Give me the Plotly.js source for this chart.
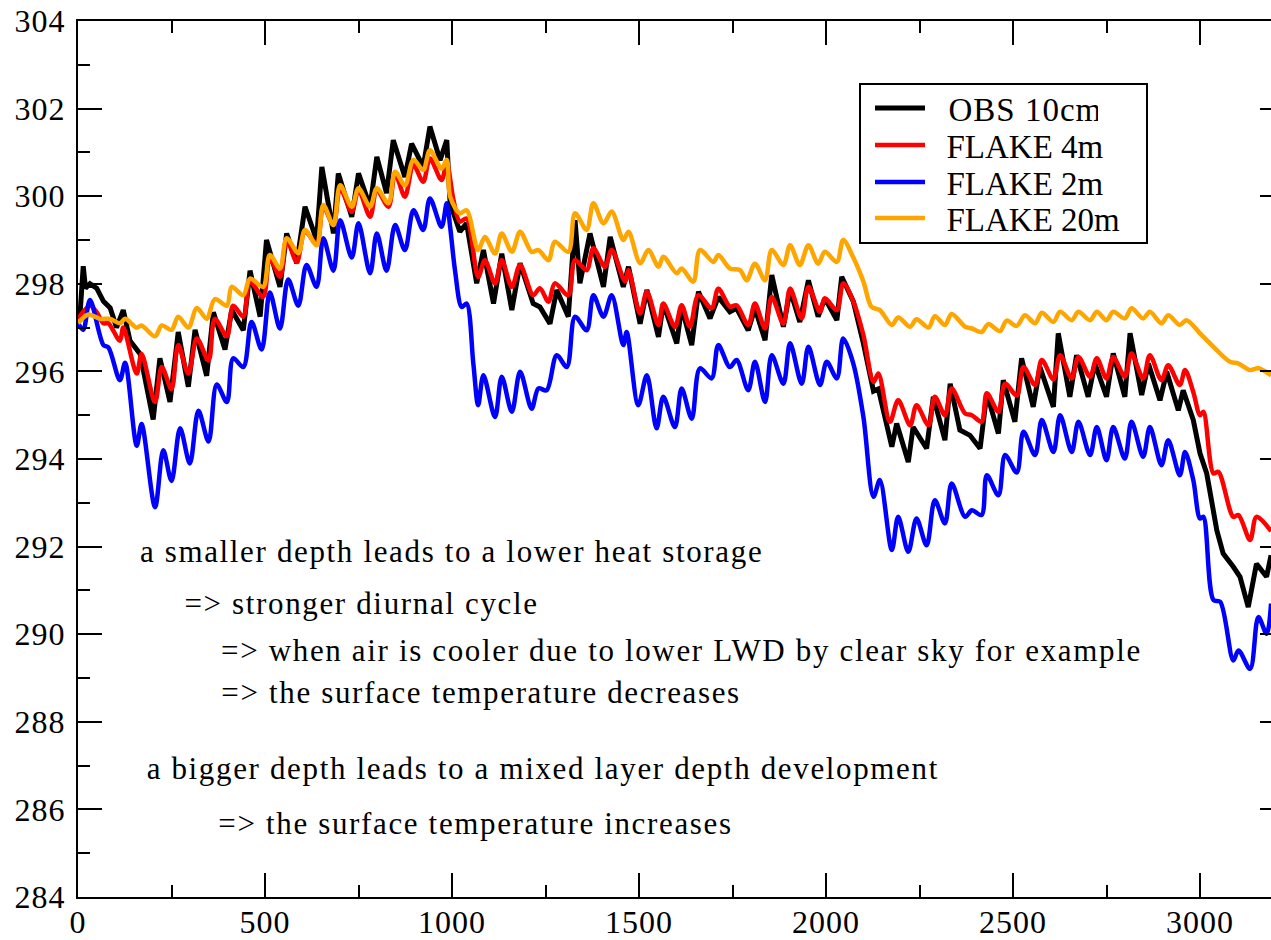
<!DOCTYPE html>
<html>
<head>
<meta charset="utf-8">
<script src="https://cdn.plot.ly/plotly-3.0.1.min.js"></script>
<style>
html,body{margin:0;padding:0;overflow:hidden;background:#fff;}
#chart{width:1300px;height:940px;}
#chart .annotation-text{letter-spacing:1.65px;}
#chart .xtick text, #chart .ytick text{letter-spacing:1px;}
#chart .legendtext{letter-spacing:1px;}
</style>
</head>
<body>
<div id="chart"></div>
<script>
// ---- data ----
const seriesNames = ["OBS 10cm", "FLAKE 4m", "FLAKE 2m", "FLAKE 20m"];

const obsX = [0,5,14,20,32,50,68,86,103,121,139,166,201,219,246,268,295,313,344,362,393,411,442,460,487,504,540,558,585,607,638,652,683,696,732,750,781,799,825,843,874,892,923,941,968,986,995,1021,1039,1066,1084,1111,1133,1160,1182,1217,1235,1262,1280,1311,1329,1342,1369,1405,1423,1458,1472,1503,1521,1552,1565,1601,1614,1641,1659,1690,1712,1743,1761,1792,1810,1837,1855,1886,1904,1930,1953,1979,1997,2029,2042,2073,2100,2127,2140,2176,2189,2220,2233,2269,2287,2318,2332,2358,2385,2412,2430,2461,2474,2505,2523,2554,2572,2608,2621,2652,2670,2701,2719,2750,2768,2799,2813,2844,2862,2893,2911,2942,2955,2982,3000,3018,3045,3062,3089,3107,3129,3151,3178,3190];
const obsY = [297.2,297.25,298.4,297.9,298.0,297.9,297.6,297.45,297.0,297.4,296.7,296.4,294.9,296.3,295.3,296.9,295.65,296.95,295.9,297.35,296.5,297.4,296.94,298.3,297.25,299.0,297.93,299.15,298.47,299.76,299.0,300.67,299.15,300.52,299.53,300.52,299.76,300.9,300.07,301.28,300.44,301.2,300.67,301.59,300.82,301.28,299.84,299.19,299.38,298.01,298.77,297.55,298.69,297.4,298.47,297.55,297.47,297.09,297.86,297.25,299.45,298.01,299.15,297.93,299.07,297.93,298.39,297.09,297.86,296.79,297.55,296.64,297.47,296.6,297.82,297.21,297.7,297.36,297.44,296.94,297.44,296.71,298.2,297.02,297.86,297.13,298.08,297.25,297.67,297.17,298.16,297.6,296.64,295.55,295.6,294.28,294.81,293.93,294.73,294.24,295.42,294.43,295.72,294.66,294.54,294.24,295.5,294.58,295.8,294.85,296.3,295.19,296.1,295.19,296.87,295.42,296.37,295.42,296.18,295.42,296.41,295.42,296.87,295.46,296.18,295.34,295.99,295.11,295.57,294.89,294.13,293.67,292.37,291.84,291.54,291.31,290.62,291.61,291.31,291.8];

const flake4X = [0,32,50,68,81,112,121,157,170,206,224,250,268,295,318,349,366,398,415,442,460,495,513,540,558,585,607,638,656,683,701,732,750,781,799,830,848,874,897,923,941,972,986,1004,1021,1039,1070,1088,1115,1133,1160,1182,1217,1235,1258,1275,1311,1329,1360,1378,1409,1427,1463,1472,1503,1521,1552,1565,1596,1614,1636,1659,1694,1712,1743,1761,1792,1810,1837,1855,1886,1904,1935,1953,1984,1997,2029,2046,2073,2100,2127,2140,2171,2193,2225,2242,2274,2291,2318,2336,2372,2390,2416,2430,2461,2479,2510,2528,2559,2577,2608,2626,2657,2675,2706,2724,2750,2768,2799,2817,2848,2866,2897,2915,2946,2960,2982,3000,3009,3036,3049,3089,3103,3134,3151,3190];
const flake4Y = [297.2,297.5,297.35,297.1,297.1,296.7,297.0,295.95,296.4,295.3,296.1,295.6,296.6,295.95,296.75,296.25,297.2,296.8,297.5,297.25,298.05,297.7,298.58,298.16,299.0,298.5,299.19,298.92,299.76,299.34,300.18,299.64,300.14,299.53,300.14,299.76,300.52,299.99,300.71,300.33,300.86,300.37,300.75,299.91,299.42,299.49,298.16,298.54,298.01,298.54,297.93,298.43,297.74,297.9,297.59,298.01,297.74,298.54,298.31,298.81,298.39,298.77,298.05,298.31,297.32,297.82,297.06,297.55,297.02,297.51,297.02,297.74,297.44,297.89,297.48,297.51,297.06,297.55,296.98,297.7,297.09,297.89,297.21,297.93,297.36,297.67,297.4,298.01,297.6,296.83,295.76,295.95,294.85,295.34,294.77,295.23,294.77,295.42,295.0,295.61,295.04,295.0,294.85,295.5,295.08,295.72,295.45,296.1,295.69,296.26,295.82,296.37,295.84,296.33,295.88,296.3,295.84,296.33,295.88,296.41,295.84,296.37,295.8,296.14,295.69,296.03,295.53,295.0,295.08,293.67,293.71,292.68,292.72,292.15,292.68,292.35];

const flake2X = [0,14,32,68,81,112,126,157,170,206,228,250,273,299,322,349,371,398,415,442,464,491,513,540,562,589,611,638,656,683,701,732,750,781,799,825,848,874,897,923,941,972,986,995,1008,1026,1039,1057,1070,1084,1115,1133,1160,1182,1213,1231,1253,1280,1307,1329,1360,1378,1405,1427,1458,1467,1498,1521,1547,1565,1596,1614,1641,1663,1694,1712,1743,1761,1792,1810,1837,1855,1886,1904,1935,1953,1984,2002,2029,2046,2073,2100,2127,2144,2176,2193,2220,2242,2269,2291,2318,2336,2372,2390,2416,2430,2461,2479,2510,2528,2559,2577,2608,2626,2657,2675,2706,2724,2750,2768,2799,2817,2848,2866,2897,2915,2946,2960,2982,3000,3009,3036,3054,3089,3103,3134,3156,3178,3190];
const flake2Y = [297.1,296.95,297.63,296.6,296.55,295.8,296.2,294.3,294.8,292.9,294.2,293.5,294.7,293.9,295.1,294.4,295.7,295.3,296.3,296.1,297.13,296.5,297.8,296.98,298.1,297.5,298.43,297.93,299.04,298.3,299.45,298.6,299.38,298.24,299.15,298.3,299.34,298.77,299.68,299.23,299.95,299.3,299.84,299.3,298.31,297.47,297.55,296.18,295.23,295.91,294.96,295.88,295.08,295.99,295.15,295.61,295.57,296.37,296.1,297.25,296.94,297.74,297.25,297.74,296.6,296.9,295.23,295.91,294.7,295.42,294.73,295.61,294.92,296.07,295.84,296.6,296.1,296.26,295.57,296.22,295.3,296.37,295.72,296.64,295.72,296.56,295.69,296.22,295.84,296.75,296.18,294.96,293.14,293.52,291.92,292.68,291.88,292.64,292.03,293.06,292.53,293.44,292.68,292.83,292.72,293.63,293.17,294.09,293.69,294.62,294.09,294.89,294.16,295.0,294.16,294.85,294.09,294.73,293.97,294.73,294.01,294.85,294.05,294.73,293.86,294.43,293.63,294.16,293.52,292.64,292.68,290.78,290.74,289.4,289.63,289.21,290.39,290.01,290.7];

const flake20X = [0,28,59,86,112,126,157,170,206,224,250,268,295,318,344,366,398,411,442,460,495,513,540,558,589,607,638,656,683,701,732,750,781,799,830,848,874,897,923,941,972,986,995,1021,1039,1070,1088,1115,1133,1160,1182,1213,1231,1258,1275,1311,1329,1360,1378,1405,1427,1458,1472,1503,1525,1552,1565,1601,1614,1645,1663,1699,1712,1743,1770,1788,1810,1837,1855,1886,1904,1930,1953,1979,1997,2029,2046,2073,2100,2122,2144,2176,2193,2225,2242,2274,2291,2318,2336,2372,2390,2416,2434,2465,2483,2510,2532,2559,2577,2608,2626,2657,2675,2706,2724,2750,2768,2799,2817,2848,2866,2897,2915,2946,2964,3000,3036,3080,3103,3134,3156,3190];
const flake20Y = [297.1,297.3,297.2,297.2,297.1,297.2,297.0,297.05,296.8,297.05,296.95,297.25,297.0,297.45,297.2,297.65,297.5,297.93,297.74,298.12,297.93,298.66,298.35,299.04,298.7,299.23,298.88,299.8,299.34,300.25,299.76,300.18,299.76,300.18,299.84,300.56,300.25,300.83,300.6,301.05,300.63,300.83,299.99,299.61,299.68,298.77,299.07,298.69,299.15,298.73,299.19,298.73,298.77,298.54,298.96,298.73,299.61,299.23,299.84,299.38,299.65,299.0,299.19,298.47,298.77,298.39,298.62,298.24,298.35,298.05,298.77,298.5,298.66,298.35,298.31,298.08,298.46,298.08,298.77,298.43,298.88,298.43,298.88,298.46,298.73,298.5,299.0,298.6,298.05,297.47,297.4,297.06,297.23,297.02,297.19,297.0,297.26,297.06,297.31,297.02,296.98,296.9,297.08,296.92,297.16,297.04,297.28,297.1,297.34,297.13,297.36,297.17,297.36,297.17,297.36,297.17,297.36,297.21,297.44,297.21,297.36,297.1,297.28,297.06,297.17,296.87,296.56,296.22,296.18,296.03,296.07,295.91];

const xTickVals = [0, 500, 1000, 1500, 2000, 2500, 3000];
const yTickVals = [284, 286, 288, 290, 292, 294, 296, 298, 300, 302, 304];

const notes = [
  "a smaller depth leads to a lower heat storage",
  "=> stronger diurnal cycle",
  "=> when air is cooler due to lower LWD by clear sky for example",
  "=> the surface temperature decreases",
  "a bigger depth leads to a mixed layer depth development",
  "=> the surface temperature increases"
];

// ---- styling ----
const FONT = "Liberation Serif";
const PX0 = 78, PY0 = 21, PW = 1206, PH = 876;   // plot area in px
const px2paperX = p => (p - PX0) / PW;
const px2paperY = p => 1 - (p - PY0) / PH;
const NB = "\u00a0\u00a0";
const NOTE_LS = 1.65;   // letter-spacing applied to notes via CSS

const traces = [
  {x: obsX, y: obsY, name: NB + seriesNames[0], mode: "lines", line: {color: "#000000", width: 5, shape: "linear"}, legend: "legend"},
  {x: flake4X, y: flake4Y, name: NB + seriesNames[1], mode: "lines", line: {color: "#ff0000", width: 4.5, shape: "spline", smoothing: 0.9}, legend: "legend2"},
  {x: flake2X, y: flake2Y, name: NB + seriesNames[2], mode: "lines", line: {color: "#0000ff", width: 4.5, shape: "spline", smoothing: 0.9}, legend: "legend3"},
  {x: flake20X, y: flake20Y, name: NB + seriesNames[3], mode: "lines", line: {color: "#ffa500", width: 4.5, shape: "spline", smoothing: 0.9}, legend: "legend4"}
];

const rowPy = [108, 145, 182, 218];
function legendAt(i) {
  return {
    x: px2paperX(870), y: px2paperY(rowPy[i]), xanchor: "left", yanchor: "middle",
    bgcolor: "rgba(0,0,0,0)", borderwidth: 0, itemwidth: 50,
    font: {family: FONT, size: 33, color: "#000"}
  };
}

// left edge (px) and vertical centre (px) of each note
const notePos = [
  [138, 551], [182, 603], [219, 650], [219, 692], [145, 768], [216, 823]
];
const annotations = notes.map((t, i) => ({
  text: t, xref: "paper", yref: "paper",
  x: px2paperX(notePos[i][0] + t.length * NOTE_LS / 2), y: px2paperY(notePos[i][1]),
  xanchor: "left", yanchor: "middle", showarrow: false,
  font: {family: FONT, size: 31, color: "#000"}
}));

const axisCommon = {
  showgrid: false, zeroline: false, showline: true, linecolor: "#000", linewidth: 2,
  mirror: "allticks", ticks: "inside", ticklen: 24, tickwidth: 2, tickcolor: "#000",
  tickfont: {family: FONT, size: 32, color: "#000"}
};

const layout = {
  width: 1300, height: 940,
  margin: {l: PX0, t: PY0, r: 1300 - PX0 - PW, b: 940 - PY0 - PH},
  paper_bgcolor: "#fff", plot_bgcolor: "#fff",
  showlegend: true,
  legend: legendAt(0), legend2: legendAt(1), legend3: legendAt(2), legend4: legendAt(3),
  xaxis: Object.assign({}, axisCommon, {
    range: [0, PW / 0.374], tickvals: xTickVals, ticktext: xTickVals.map(String), ticklabelstandoff: -4,
    minor: {dtick: 250, ticks: "inside", ticklen: 12, tickwidth: 2, tickcolor: "#000", showgrid: false}
  }),
  yaxis: Object.assign({}, axisCommon, {
    range: [284, 304], tickvals: yTickVals, ticktext: yTickVals.map(String), ticklabelstandoff: 4,
    minor: {dtick: 1, ticks: "inside", ticklen: 12, tickwidth: 2, tickcolor: "#000", showgrid: false}
  }),
  shapes: [{
    type: "rect", xref: "paper", yref: "paper",
    x0: px2paperX(860), x1: px2paperX(1147), y0: px2paperY(243), y1: px2paperY(84),
    line: {color: "#000", width: 2}, fillcolor: "rgba(0,0,0,0)", layer: "above"
  }],
  annotations: annotations
};

Plotly.newPlot("chart", traces, layout, {displayModeBar: false, staticPlot: true});
</script>
</body>
</html>
